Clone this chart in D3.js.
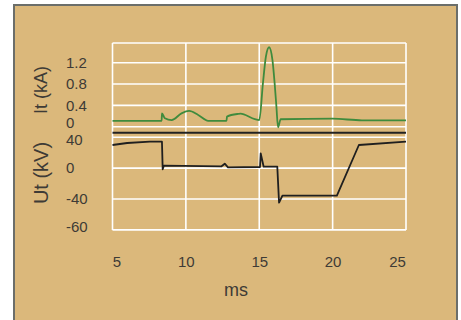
<!DOCTYPE html>
<html>
<head>
<meta charset="utf-8">
<script src="https://cdn.jsdelivr.net/npm/d3@7"></script>
<style>
  html, body { margin: 0; padding: 0; background: #fff; }
  text { font-family: "Liberation Sans", Arial, Helvetica, sans-serif; fill: #3e3b36; }
</style>
</head>
<body>
<svg id="chart" width="461" height="320"></svg>
<script>
// data
const timeI = [5, 8.35, 8.37, 8.57, 9.03, 9.7, 10.22, 10.84, 11.52, 12.77, 12.8, 13.56, 13.72, 14.7, 15.0,
  15.25, 15.45, 15.67, 15.9, 16.05, 16.17, 16.28, 16.46, 20, 22, 25];
const currentKA = [0.11, 0.11, 0.25, 0.16, 0.125, 0.25, 0.295, 0.22, 0.11, 0.11, 0.19, 0.24, 0.245, 0.14, 0.125,
  0.81, 1.31, 1.49, 1.25, 0.81, 0.375, -0.01, 0.14, 0.15, 0.12, 0.12];

const timeU = [5, 6, 7.55, 8.37, 8.42, 8.5, 12.43, 12.65, 12.87, 15.05, 15.1, 15.3, 16.23, 16.35, 16.58, 20.29, 21.79, 25];
const voltageKV = [30, 32.6, 34.3, 34.3, -1.5, 3.2, 2.4, 5.8, 1.1, 1.5, 19.2, 1.9, 1.9, -44.8, -35.7, -35.7, 30, 34.3];

const xTicks = [5, 10, 15, 20, 25];
const iTicks = [0, 0.4, 0.8, 1.2];
const iTickLabels = ['0', '0.4', '0.8', '1.2'];
const uTicks = [40, 0, -40, -80];
const uTickLabels = ['40', '0', '-40', '-60'];

const svg = d3.select('#chart');

// panel
svg.append('rect')
  .attr('x', 14).attr('y', 5).attr('width', 443).attr('height', 330)
  .attr('fill', '#dbb87b').attr('stroke', '#6b6e6a').attr('stroke-width', 2);

const plotL = 112.5, plotR = 406, plotT = 43, plotB = 230, sepY = 132.7;

const x = d3.scaleLinear().domain([5, 25]).range([plotL, plotR]);
const yI = d3.scaleLinear().domain([0, 1.2]).range([126.7, 62.7]);
const yU = d3.scaleLinear().domain([-40, 40]).range([199, 137.3]);

// grid
const grid = svg.append('g').attr('stroke', '#fff').attr('stroke-width', 1.6).attr('fill', 'none');
grid.selectAll('.vx').data(xTicks).enter().append('line')
  .attr('x1', d => x(d)).attr('x2', d => x(d)).attr('y1', plotT).attr('y2', plotB);
grid.append('line').attr('x1', plotL).attr('x2', plotR).attr('y1', plotT).attr('y2', plotT);
grid.selectAll('.hi').data(iTicks).enter().append('line')
  .attr('x1', plotL).attr('x2', plotR).attr('y1', d => yI(d)).attr('y2', d => yI(d));
grid.selectAll('.hu').data(uTicks).enter().append('line')
  .attr('x1', plotL).attr('x2', plotR).attr('y1', d => yU(d)).attr('y2', d => yU(d));

// separator between the two traces
svg.append('line')
  .attr('x1', plotL).attr('x2', plotR).attr('y1', sepY).attr('y2', sepY)
  .attr('stroke', '#222').attr('stroke-width', 2);

// current trace
const lineI = d3.line().x((d, i) => x(timeI[i])).y(d => yI(d)).curve(d3.curveMonotoneX);
svg.append('path').datum(currentKA)
  .attr('d', lineI)
  .attr('fill', 'none').attr('stroke', '#3f8b3d').attr('stroke-width', 1.8);

// voltage trace
const lineU = d3.line().x((d, i) => x(timeU[i])).y(d => yU(d));
svg.append('path').datum(voltageKV)
  .attr('d', lineU)
  .attr('fill', 'none').attr('stroke', '#1f1f1f').attr('stroke-width', 1.8)
  .attr('stroke-linejoin', 'round');

// x axis
const xAxis = svg.append('g')
  .attr('transform', 'translate(0,253)')
  .call(d3.axisBottom(x).tickValues(xTicks).tickSize(0).tickFormat(d3.format('d')));
xAxis.select('.domain').remove();
xAxis.attr('font-family', null);
xAxis.selectAll('text')
  .style('font-size', '15px').attr('fill', null)
  .attr('dx', d => d === 5 ? 4 : d === 25 ? -9 : 0);

// y axes, labels left aligned
const iAxis = svg.append('g')
  .attr('transform', 'translate(66,0)')
  .call(d3.axisLeft(yI).tickValues(iTicks).tickSize(0).tickFormat((d, i) => iTickLabels[i]));
iAxis.select('.domain').remove();
iAxis.attr('font-family', null).attr('text-anchor', null);
iAxis.selectAll('text')
  .attr('x', 0).attr('text-anchor', 'start')
  .attr('dy', d => d === 0 ? '0.05em' : '0.32em')
  .style('font-size', '15px').attr('fill', null);

const uAxis = svg.append('g')
  .attr('transform', 'translate(66,0)')
  .call(d3.axisLeft(yU).tickValues(uTicks).tickSize(0).tickFormat((d, i) => uTickLabels[i]));
uAxis.select('.domain').remove();
uAxis.attr('font-family', null).attr('text-anchor', null);
uAxis.selectAll('text')
  .attr('x', 0).attr('text-anchor', 'start')
  .attr('dy', d => d === 40 ? '0.5em' : d === -80 ? '0.1em' : '0.32em')
  .style('font-size', '15px').attr('fill', null);

// titles
svg.append('text')
  .attr('transform', 'translate(47,90) rotate(-90)')
  .attr('text-anchor', 'middle')
  .style('font-size', '18px')
  .text('It (kA)');

svg.append('text')
  .attr('transform', 'translate(48,173) rotate(-90)')
  .attr('text-anchor', 'middle')
  .style('font-size', '20px')
  .text('Ut (kV)');

svg.append('text')
  .attr('x', 236).attr('y', 296)
  .attr('text-anchor', 'middle')
  .style('font-size', '18px')
  .text('ms');
</script>
</body>
</html>
